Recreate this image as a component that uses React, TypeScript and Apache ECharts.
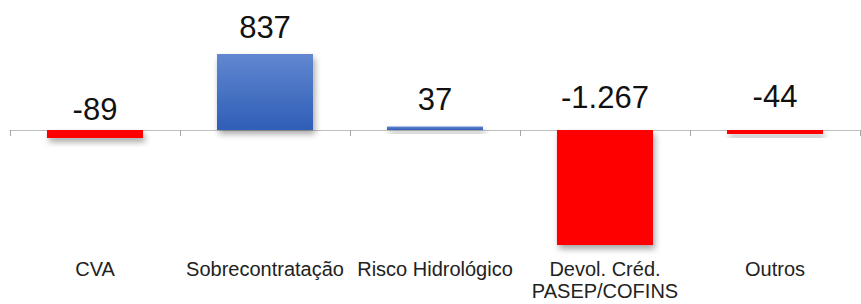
import React, { useEffect, useRef } from "react";
import * as echarts from "echarts";

const categories = ["CVA", "Sobrecontratação", "Risco Hidrológico", "Devol. Créd.\nPASEP/COFINS", "Outros"];
const values = [-89, 837, 37, -1267, -44];

const labelDistances = [5, 11, 12, 17, 18];

function fmt(v: number): string {
  const s = Math.abs(v).toString().replace(/\B(?=(\d{3})+(?!\d))/g, ".");
  return (v < 0 ? "-" : "") + s;
}

export default function App() {
  const ref = useRef<HTMLDivElement>(null);
  useEffect(() => {
    if (!ref.current) return;
    const chart = echarts.init(ref.current, undefined, { renderer: "svg" });
    const blue = new echarts.graphic.LinearGradient(0, 0, 0, 1, [
      { offset: 0, color: "#6187d0" },
      { offset: 1, color: "#2f5eb7" },
    ]);
    chart.setOption({
      animation: false,
      grid: { left: 10, right: 1, top: 54, bottom: 59, containLabel: false, outerBoundsMode: "none" },
      xAxis: {
        type: "category",
        data: categories,
        axisLine: { onZero: true, lineStyle: { color: "#bfbfbf", width: 1 } },
        axisTick: { show: true, length: 6, lineStyle: { color: "#a6a6a6" } },
        axisLabel: {
          margin: 13,
          fontFamily: "Liberation Sans",
          fontSize: 20,
          lineHeight: 22,
          color: "#222",
          interval: 0,
        },
      },
      yAxis: {
        type: "value",
        min: Math.min(...values),
        max: Math.max(...values),
        show: false,
        splitLine: { show: false },
      },
      series: [
        {
          type: "bar",
          barWidth: "56.5%",
          data: values.map((v, i) => ({
            value: v,
            itemStyle: {
              color: v >= 0 ? blue : "#ff0000",
              shadowBlur: 6,
              shadowColor: "rgba(0,0,0,0.35)",
              shadowOffsetX: 2,
              shadowOffsetY: 4,
            },
            label: {
              show: true,
              position: "top",
              distance: labelDistances[i],
              formatter: () => fmt(v),
              fontFamily: "Liberation Sans",
              fontSize: 31,
              color: "#111",
            },
          })),
        },
      ],
    });
    return () => chart.dispose();
  }, []);
  return <div ref={ref} style={{ width: 861, height: 304, position: "absolute", left: 0, top: 0 }} />;
}
